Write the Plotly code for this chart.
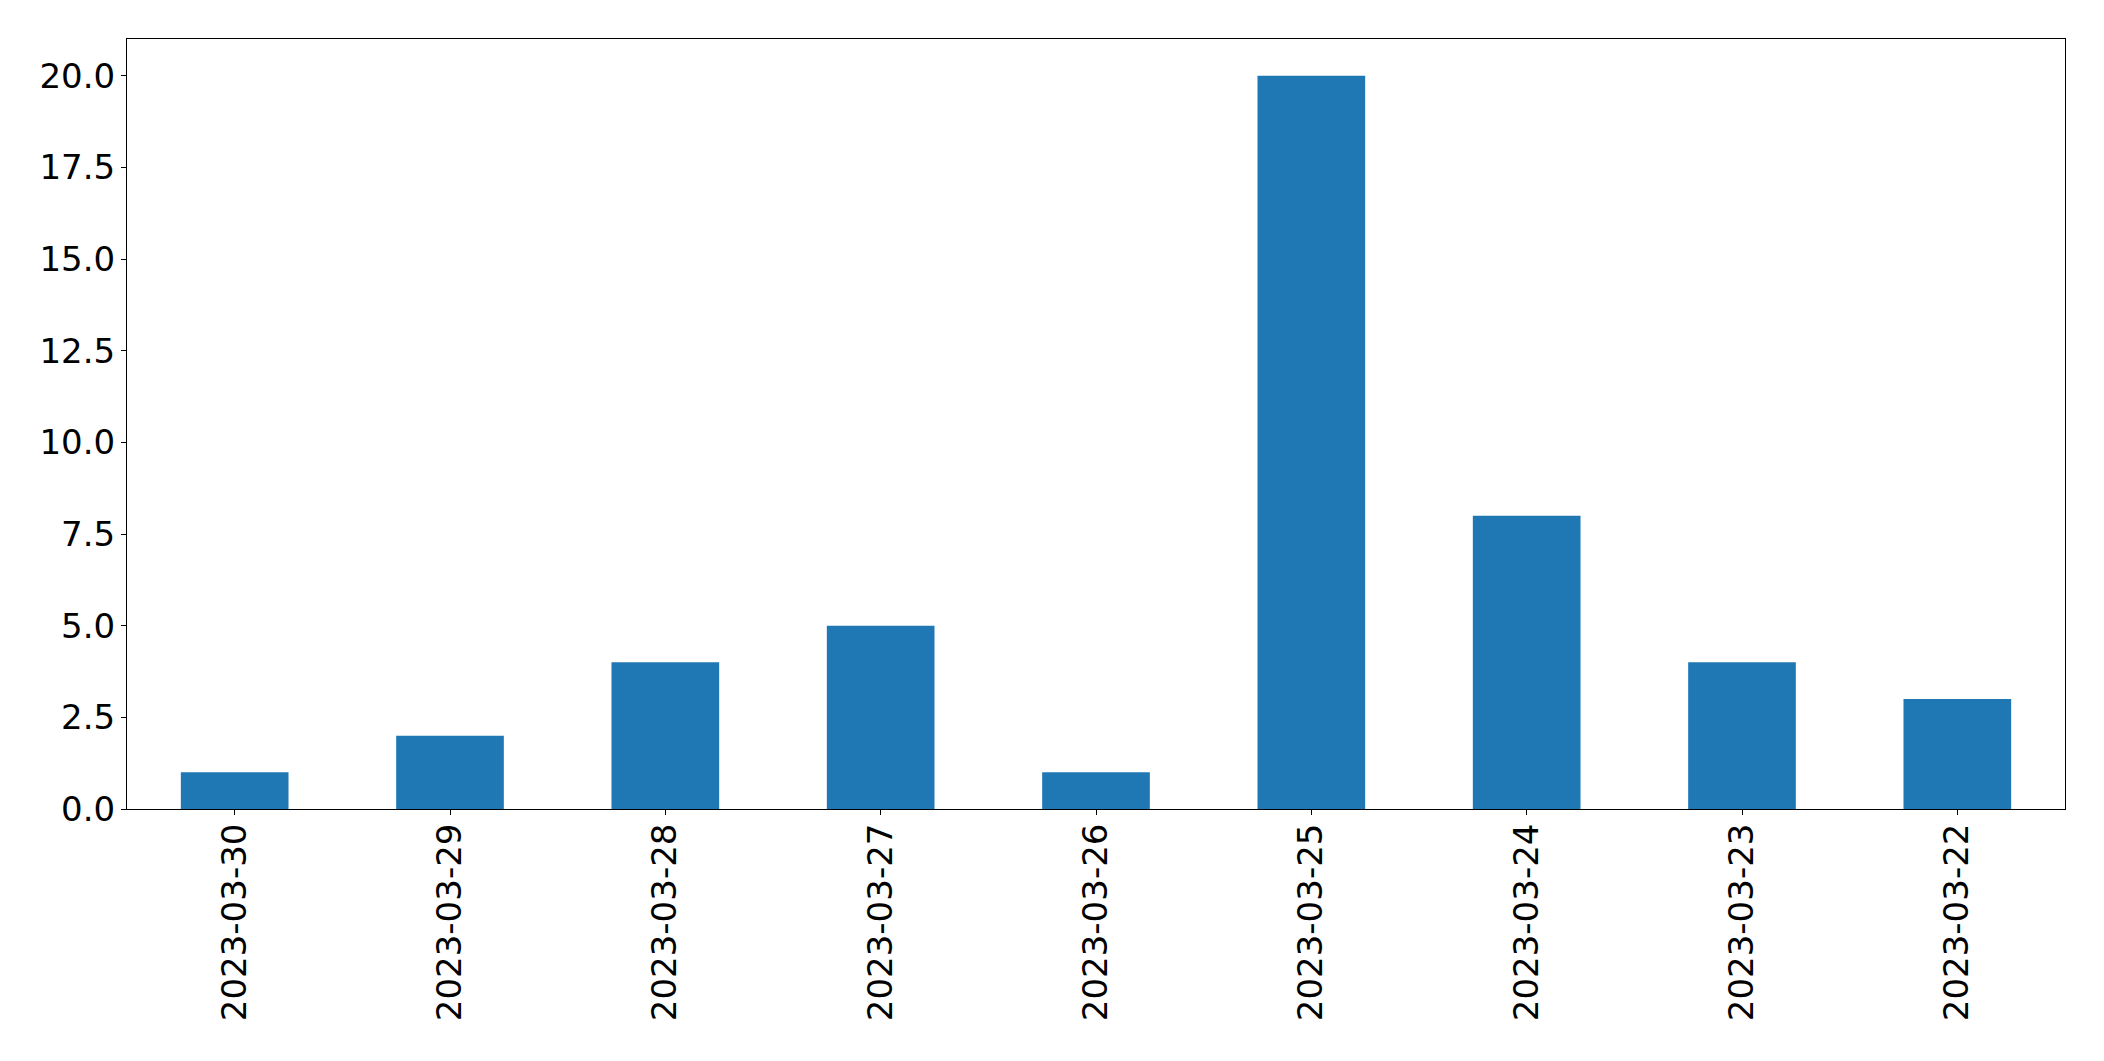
import plotly.graph_objects as go

dates = ['2023-03-30', '2023-03-29', '2023-03-28', '2023-03-27', '2023-03-26',
         '2023-03-25', '2023-03-24', '2023-03-23', '2023-03-22']
counts = [1, 2, 4, 5, 1, 20, 8, 4, 3]

fig = go.Figure()

fig.add_trace(
    go.Bar(
        x = dates,
        y = counts,
        marker = dict(color = '#1f77b4', line_width = 0),
        width = 0.5,
    ))

axis_style = dict(
    showline = True,
    linecolor = 'black',
    linewidth = 1,
    mirror = True,
    showgrid = False,
    zeroline = False,
    ticks = 'outside',
    ticklen = 5,
    tickwidth = 1,
    tickcolor = 'black',
    tickfont = dict(family = 'DejaVu Sans', size = 34, color = 'black'),
)

# page body has an 8px margin, so the figure is 8px smaller and margins shifted
fig.update_layout(
    width = 2096,
    height = 1053,
    plot_bgcolor = 'white',
    paper_bgcolor = 'white',
    showlegend = False,
    margin = dict(l=119, r=39, t=31, b=252),
    xaxis = dict(
        axis_style,
        type = 'category',
        range = [-0.5, 8.5],
        tickangle = -90,
        ticklabelstandoff = -5,
    ),
    yaxis = dict(
        axis_style,
        range = [0, 21],
        tick0 = 0,
        dtick = 2.5,
        tickformat = '.1f',
        ticklabelstandoff = -1,
    ),
)

fig.write_html("out.html")
